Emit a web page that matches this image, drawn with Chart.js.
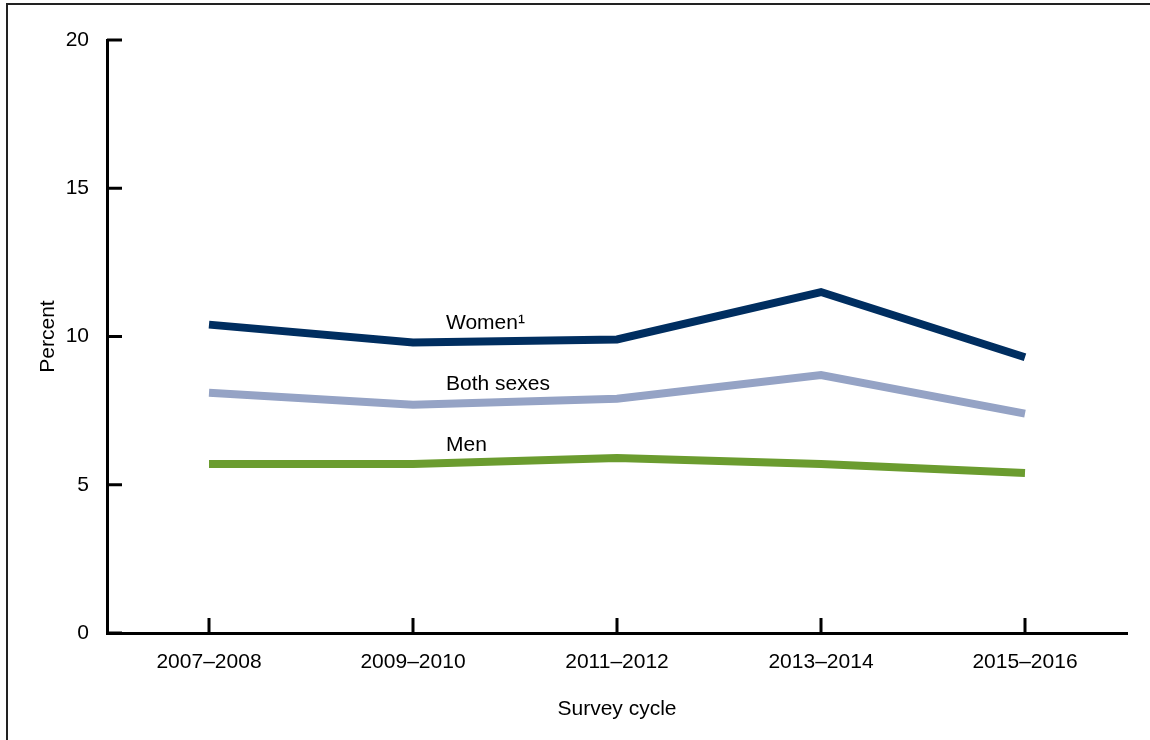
<!DOCTYPE html>
<html>
<head>
<meta charset="utf-8">
<script src="https://cdn.jsdelivr.net/npm/chart.js@4.4.1/dist/chart.umd.min.js"></script>
<style>
  body { margin: 0; background: #fff; overflow: hidden; }
  #wrap { position: relative; width: 1150px; height: 740px; }
  #frame { position: absolute; left: 6px; top: 3px; width: 1200px; height: 800px;
           border-left: 2px solid #222; border-top: 2px solid #222; }
  canvas { position: absolute; left: 0; top: 0; }
</style>
</head>
<body>
<div id="wrap">
  <div id="frame"></div>
  <canvas id="chart" width="1150" height="740"></canvas>
</div>
<script>
const cycles = ['2007–2008', '2009–2010', '2011–2012', '2013–2014', '2015–2016'];
const women = [10.4, 9.8, 9.9, 11.5, 9.3];
const bothSexes = [8.1, 7.7, 7.9, 8.7, 7.4];
const men = [5.7, 5.7, 5.9, 5.7, 5.4];
const yTicks = [0, 5, 10, 15, 20];

const FONT = "'Liberation Sans', Arial, sans-serif";
const SIZE = 21;

// inline series labels and inward tick marks
const extras = {
    id: 'extras',
    afterDraw(chart) {
        const ctx = chart.ctx;
        const x = chart.scales.x, y = chart.scales.y;
        const area = chart.chartArea;
        ctx.save();
        ctx.strokeStyle = '#000';
        ctx.lineWidth = 3;
        yTicks.forEach(v => {
            const py = y.getPixelForValue(v);
            ctx.beginPath();
            ctx.moveTo(area.left, py);
            ctx.lineTo(area.left + 15, py);
            ctx.stroke();
        });
        cycles.forEach((c, i) => {
            const px = x.getPixelForValue(i);
            ctx.beginPath();
            ctx.moveTo(px, area.bottom);
            ctx.lineTo(px, area.bottom - 15);
            ctx.stroke();
        });

        ctx.fillStyle = '#000';
        ctx.font = SIZE + 'px ' + FONT;
        ctx.textBaseline = 'middle';
        ctx.textAlign = 'left';
        const lx = x.getPixelForValue(1) + 33;
        chart.data.datasets.forEach(ds => {
            ctx.fillText(ds.label, lx, y.getPixelForValue(ds.labelAt));
        });
        ctx.restore();
    }
};

const ctx = document.getElementById('chart').getContext('2d');
new Chart(ctx, {
    type: 'line',
    data: {
        labels: cycles,
        datasets: [
            { label: 'Women¹', data: women, borderColor: '#002e60', labelAt: 10.45 },
            { label: 'Both sexes', data: bothSexes, borderColor: '#95a3c5', labelAt: 8.4 },
            { label: 'Men', data: men, borderColor: '#6b9c2f', labelAt: 6.35 }
        ]
    },
    options: {
        responsive: false,
        animation: false,
        layout: { padding: { top: 40, right: 23, bottom: 0, left: 0 } },
        elements: {
            line: { borderWidth: 8, tension: 0, borderCapStyle: 'butt', borderJoinStyle: 'miter', fill: false },
            point: { radius: 0, hoverRadius: 0 }
        },
        plugins: { legend: { display: false }, tooltip: { enabled: false } },
        scales: {
            x: {
                type: 'category',
                offset: true,
                grid: { display: false },
                border: { display: true, color: '#000', width: 3 },
                ticks: { color: '#000', font: { family: FONT, size: SIZE }, padding: 9, maxRotation: 0 },
                title: { display: true, text: 'Survey cycle', color: '#000',
                         font: { family: FONT, size: SIZE }, padding: { top: 0, bottom: 18 } },
                afterFit(scale) { scale.height = 107; }
            },
            y: {
                min: 0,
                max: 20,
                grid: { display: false },
                border: { display: true, color: '#000', width: 3 },
                ticks: { stepSize: 5, color: '#000', font: { family: FONT, size: SIZE }, padding: 10 },
                title: { display: true, text: 'Percent', color: '#000',
                         font: { family: FONT, size: SIZE }, padding: { top: 36, bottom: 0 } },
                afterFit(scale) { scale.width = 107; }
            }
        }
    },
    plugins: [extras]
});
</script>
</body>
</html>
